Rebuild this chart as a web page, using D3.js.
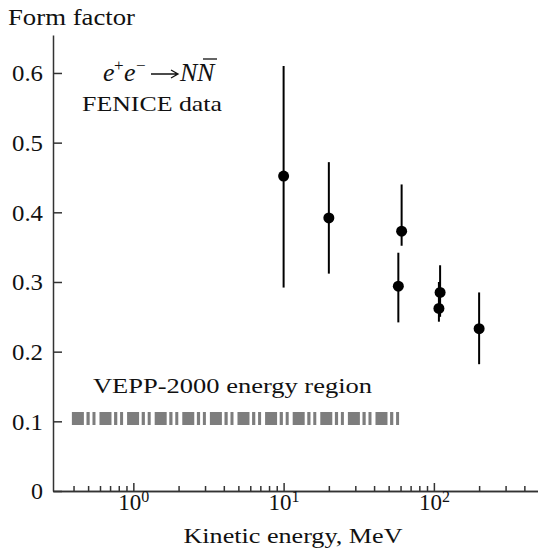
<!DOCTYPE html>
<html>
<head>
<meta charset="utf-8">
<script src="https://cdn.jsdelivr.net/npm/d3@7"></script>
<style>
  body { margin: 0; background: #fff; }
  svg text { font-family: "Liberation Serif", "Times New Roman", Times, serif; fill: #111; }
  .axis path, .axis line { stroke: #333; stroke-width: 1.5; }
</style>
</head>
<body>
<div id="chart"></div>
<script>
// FENICE form factor points (kinetic energy in MeV)
var energy = [10, 20, 61, 58, 110, 108, 200];
var formFactor = [0.452, 0.392, 0.373, 0.294, 0.285, 0.262, 0.233];
var errLow = [0.292, 0.312, 0.352, 0.242, 0.250, 0.243, 0.182];
var errHigh = [0.610, 0.472, 0.440, 0.342, 0.324, 0.300, 0.285];

// VEPP-2000 band
var veppRange = [0.39, 61];
var veppLevel = 0.104;

var yTicks = [0, 0.1, 0.2, 0.3, 0.4, 0.5, 0.6];
var yTickLabels = ["0", "0.1", "0.2", "0.3", "0.4", "0.5", "0.6"];
var xMajor = [1, 10, 100];
var xMajorExp = ["0", "1", "2"];
var xMinor = [0.4, 0.5, 0.6, 0.7, 0.8, 0.9, 2, 3, 4, 5, 6, 7, 8, 9,
              20, 30, 40, 50, 60, 70, 80, 90, 200, 300, 400];

var width = 538, height = 555;

var svg = d3.select("#chart").append("svg")
    .attr("width", width)
    .attr("height", height);

var x = d3.scaleLog().domain([0.292, 493]).range([53, 538]);
var y = d3.scaleLinear().domain([0, 0.6545]).range([491, 35]);

// y axis, ticks point inward
var yAxis = d3.axisLeft(y)
    .tickValues(yTicks)
    .tickSizeInner(-9)
    .tickSizeOuter(0)
    .tickPadding(10)
    .tickFormat(function(d, i){ return yTickLabels[i]; });

var gy = svg.append("g").attr("class", "axis")
    .attr("transform", "translate(" + x.range()[0] + ",0)")
    .call(yAxis);
gy.selectAll("text")
    .style("font-size", "23px")
    .attr("dy", "0.34em")
    .attr("textLength", function(d, i){ return yTickLabels[i].length == 1 ? 12 : 31; })
    .attr("lengthAdjust", "spacingAndGlyphs");

// x axis: minor ticks then major ticks
var xMinorAxis = d3.axisBottom(x)
    .tickValues(xMinor)
    .tickSizeInner(-5)
    .tickSizeOuter(0)
    .tickFormat("");
svg.append("g").attr("class", "axis")
    .attr("transform", "translate(0," + y(0) + ")")
    .call(xMinorAxis);

var xMajorAxis = d3.axisBottom(x)
    .tickValues(xMajor)
    .tickSizeInner(-8)
    .tickSizeOuter(0)
    .tickFormat("");
var gx = svg.append("g").attr("class", "axis")
    .attr("transform", "translate(0," + y(0) + ")")
    .call(xMajorAxis);

gx.selectAll(".tick").each(function(d, i){
    var t = d3.select(this).append("text")
        .attr("y", 19)
        .attr("text-anchor", "middle")
        .style("font-size", "23px");
    t.append("tspan").text("10");
    t.append("tspan").attr("dy", -8).style("font-size", "16px").text(xMajorExp[i]);
});

// VEPP-2000 energy region band
svg.append("line")
    .attr("x1", x(veppRange[0]))
    .attr("x2", x(veppRange[1]))
    .attr("y1", y(veppLevel))
    .attr("y2", y(veppLevel))
    .attr("stroke", "#7d7d7d")
    .attr("stroke-width", 13)
    .attr("stroke-dasharray", "12,2.6,3.2,2.8,3,4");

// error bars
var idx = d3.range(energy.length);
svg.selectAll(".err").data(idx).enter().append("line")
    .attr("class", "err")
    .attr("x1", function(i){ return x(energy[i]); })
    .attr("x2", function(i){ return x(energy[i]); })
    .attr("y1", function(i){ return y(errLow[i]); })
    .attr("y2", function(i){ return y(errHigh[i]); })
    .attr("stroke", "#000")
    .attr("stroke-width", 2);

svg.selectAll(".dot").data(idx).enter().append("circle")
    .attr("class", "dot")
    .attr("cx", function(i){ return x(energy[i]); })
    .attr("cy", function(i){ return y(formFactor[i]); })
    .attr("r", 5.5)
    .attr("fill", "#000");

// labels
svg.append("text")
    .attr("x", 8).attr("y", 25)
    .style("font-size", "23px")
    .attr("textLength", 127).attr("lengthAdjust", "spacingAndGlyphs")
    .text("Form factor");

svg.append("text")
    .attr("x", 82).attr("y", 111)
    .style("font-size", "22px")
    .attr("textLength", 140).attr("lengthAdjust", "spacingAndGlyphs")
    .text("FENICE data");

svg.append("text")
    .attr("x", 93).attr("y", 393)
    .style("font-size", "22px")
    .attr("textLength", 279).attr("lengthAdjust", "spacingAndGlyphs")
    .text("VEPP-2000 energy region");

svg.append("text")
    .attr("x", 293).attr("y", 543)
    .attr("text-anchor", "middle")
    .style("font-size", "22px")
    .attr("textLength", 219).attr("lengthAdjust", "spacingAndGlyphs")
    .text("Kinetic energy, MeV");

// reaction formula e+e- -> N Nbar
var f = svg.append("text")
    .attr("y", 81)
    .style("font-size", "26px");
f.append("tspan").attr("x", 103).style("font-style", "italic").text("e");
f.append("tspan").attr("x", 114).attr("dy", -10).style("font-size", "17px").text("+");
f.append("tspan").attr("x", 124).attr("dy", 10).style("font-style", "italic").text("e");
f.append("tspan").attr("x", 136).attr("dy", -10).style("font-size", "17px").text("\u2212");
f.append("tspan").attr("x", 180).attr("dy", 10).style("font-style", "italic").text("N");
f.append("tspan").attr("x", 197).style("font-style", "italic").text("N");

// reaction arrow
svg.append("path")
    .attr("d", "M151,74H177M171,70L178,74L171,78")
    .attr("fill", "none")
    .attr("stroke", "#111")
    .attr("stroke-width", 1.3);

// bar over the antinucleon
svg.append("line")
    .attr("x1", 203).attr("x2", 217)
    .attr("y1", 59).attr("y2", 59)
    .attr("stroke", "#111").attr("stroke-width", 1.3);
</script>
</body>
</html>
